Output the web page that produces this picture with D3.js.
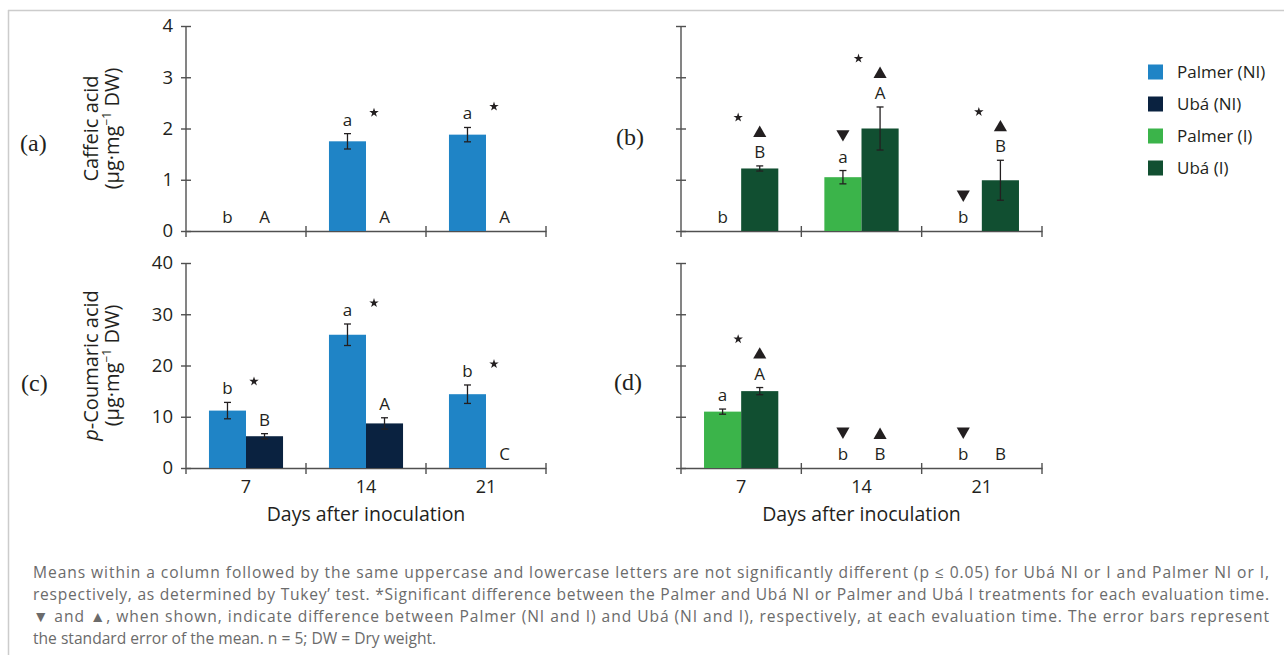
<!DOCTYPE html>
<html>
<head>
<meta charset="utf-8">
<script src="https://cdn.jsdelivr.net/npm/d3@7"></script>
<style>
  body { margin: 0; background: #fff; }
  svg { display: block; font-family: 'Open Sans', sans-serif; }
</style>
</head>
<body>
<svg id="chart" width="1284" height="655"></svg>
<script>
'use strict';
// categories + legend
const days = ['7', '14', '21'];
const legendLabels = ['Palmer (NI)', 'Ubá (NI)', 'Palmer (I)', 'Ubá (I)'];
const caffeicTicks = [0, 1, 2, 3, 4];
const coumaricTicks = [0, 10, 20, 30, 40];

// (a) caffeic acid, not inoculated
const caffeicPalmerNI = [0, 1.75, 1.88];
const caffeicPalmerNIErr = [0, 0.15, 0.14];
const caffeicPalmerNILetters = ['b', 'a', 'a'];
const caffeicUbaNI = [0, 0, 0];
const caffeicUbaNIErr = [0, 0, 0];
const caffeicUbaNILetters = ['A', 'A', 'A'];
const caffeicNIStars = [false, true, true];

// (b) caffeic acid, inoculated
const caffeicPalmerI = [0, 1.05, 0];
const caffeicPalmerIErr = [0, 0.13, 0];
const caffeicPalmerILetters = ['b', 'a', 'b'];
const caffeicPalmerIMarks = ['', 'down', 'down'];
const caffeicUbaI = [1.22, 2.0, 0.99];
const caffeicUbaIErr = [0.05, 0.42, 0.39];
const caffeicUbaILetters = ['B', 'A', 'B'];
const caffeicUbaIMarks = ['up', 'up', 'up'];
const caffeicIStars = [true, true, true];

// (c) p-coumaric acid, not inoculated
const coumaricPalmerNI = [11.2, 26.0, 14.4];
const coumaricPalmerNIErr = [1.6, 2.1, 1.8];
const coumaricPalmerNILetters = ['b', 'a', 'b'];
const coumaricUbaNI = [6.2, 8.7, 0];
const coumaricUbaNIErr = [0.5, 1.1, 0];
const coumaricUbaNILetters = ['B', 'A', 'C'];
const coumaricNIStars = [true, true, true];

// (d) p-coumaric acid, inoculated
const coumaricPalmerI = [11.0, 0, 0];
const coumaricPalmerIErr = [0.5, 0, 0];
const coumaricPalmerILetters = ['a', 'b', 'b'];
const coumaricPalmerIMarks = ['', 'down', 'down'];
const coumaricUbaI = [15.0, 0, 0];
const coumaricUbaIErr = [0.7, 0, 0];
const coumaricUbaILetters = ['A', 'B', 'B'];
const coumaricUbaIMarks = ['up', 'up', ''];
const coumaricIStars = [true, false, false];

const captionLines = [
  'Means within a column followed by the same uppercase and lowercase letters are not significantly different (p ≤ 0.05) for Ubá NI or I and Palmer NI or I,',
  'respectively, as determined by Tukey’ test. *Significant difference between the Palmer and Ubá NI or Palmer and Ubá I treatments for each evaluation time.',
  '▼ and ▲, when shown, indicate difference between Palmer (NI and I) and Ubá (NI and I), respectively, at each evaluation time. The error bars represent',
  'the standard error of the mean. n = 5; DW = Dry weight.',
];

const color = d3.scaleOrdinal()
  .domain(legendLabels)
  .range(['#1f84c6', '#0a2240', '#3bb44a', '#114f31']);
const ink = '#231f20';
const axisColor = '#505050';

const svg = d3.select('#chart');

// frame lines
svg.append('line')
  .attr('x1', 8).attr('x2', 1284).attr('y1', 10.5).attr('y2', 10.5)
  .attr('stroke', '#cccccc').attr('stroke-width', 1.5);
svg.append('line')
  .attr('x1', 8.5).attr('x2', 8.5).attr('y1', 10).attr('y2', 655)
  .attr('stroke', '#cccccc').attr('stroke-width', 1.5);

const triSize = 75;
const triH = Math.sqrt(triSize * 4 / Math.sqrt(3)) * Math.sqrt(3) / 2;

function panel(p) {
  const g = svg.append('g');
  const x = d3.scaleBand().domain(days).range([p.x0, p.x1]).padding(0);
  const xs = d3.scaleBand()
    .domain(p.series.map((s) => s.name))
    .range([0, x.bandwidth()])
    .paddingInner(0)
    .paddingOuter(0.62);
  const y = d3.scaleLinear().domain([0, d3.max(p.ticks)]).range([p.y0, p.yTop]);
  const rows = p.series.flatMap((s) => days.map((d, i) => ({
    day: d, i, name: s.name, v: s.values[i], e: s.errs[i],
    letter: s.letters[i], mark: s.marks ? s.marks[i] : '',
  })));
  const cx = (d) => x(d.day) + xs(d.name) + xs.bandwidth() / 2;

  // y axis
  const yAxis = g.append('g')
    .attr('transform', `translate(${p.x0},0)`)
    .call(d3.axisLeft(y).tickValues(p.ticks).tickSizeInner(5).tickSizeOuter(0)
      .tickPadding(8).tickFormat(p.tickLabels ? d3.format('d') : () => ''))
    .attr('font-family', null)
    .attr('font-size', 18.5);
  yAxis.select('.domain').remove();
  yAxis.selectAll('.tick line')
    .attr('x1', 5).attr('x2', -5)
    .attr('stroke', axisColor).attr('stroke-width', 1.4);
  yAxis.selectAll('.tick text').attr('fill', ink);
  g.append('line')
    .attr('x1', p.x0).attr('x2', p.x0)
    .attr('y1', y(d3.max(p.ticks))).attr('y2', y(0) + 6)
    .attr('stroke', axisColor).attr('stroke-width', 1.4);

  // x axis, ticks at the group boundaries
  const xAxis = g.append('g')
    .attr('transform', `translate(0,${y(0)})`)
    .call(d3.axisBottom(x).tickSize(0).tickPadding(12)
      .tickFormat(p.showX ? (d) => d : () => ''))
    .attr('font-family', null)
    .attr('font-size', 18);
  xAxis.select('.domain').attr('stroke', axisColor).attr('stroke-width', 1.4);
  xAxis.selectAll('.tick text').attr('fill', ink);
  g.selectAll('.btick')
    .data(days)
    .join('line')
    .attr('x1', (d) => x(d) + x.bandwidth())
    .attr('x2', (d) => x(d) + x.bandwidth())
    .attr('y1', y(0) - 5)
    .attr('y2', y(0) + 6)
    .attr('stroke', axisColor).attr('stroke-width', 1.4);

  // bars
  g.append('g')
    .selectAll('rect')
    .data(rows.filter((d) => d.v > 0))
    .join('rect')
    .attr('x', (d) => x(d.day) + xs(d.name))
    .attr('width', xs.bandwidth())
    .attr('y', (d) => y(d.v))
    .attr('height', (d) => y(0) - y(d.v))
    .attr('fill', (d) => color(d.name));

  // error bars
  const eb = g.append('g')
    .attr('stroke', ink).attr('stroke-width', 1.3)
    .selectAll('g')
    .data(rows.filter((d) => d.e > 0))
    .join('g');
  eb.append('line')
    .attr('x1', cx).attr('x2', cx)
    .attr('y1', (d) => y(d.v - d.e)).attr('y2', (d) => y(d.v + d.e));
  eb.append('line')
    .attr('x1', (d) => cx(d) - 3.5).attr('x2', (d) => cx(d) + 3.5)
    .attr('y1', (d) => y(d.v - d.e)).attr('y2', (d) => y(d.v - d.e));
  eb.append('line')
    .attr('x1', (d) => cx(d) - 3.5).attr('x2', (d) => cx(d) + 3.5)
    .attr('y1', (d) => y(d.v + d.e)).attr('y2', (d) => y(d.v + d.e));

  // Tukey letters
  g.append('g')
    .selectAll('text')
    .data(rows)
    .join('text')
    .attr('x', cx)
    .attr('y', (d) => y(d.v + d.e) - 8)
    .attr('text-anchor', 'middle')
    .attr('font-size', 17)
    .attr('fill', ink)
    .text((d) => d.letter);

  // up / down triangles
  g.append('g')
    .selectAll('path')
    .data(rows.filter((d) => d.mark))
    .join('path')
    .attr('d', d3.symbol(d3.symbolTriangle, triSize))
    .attr('fill', ink)
    .attr('transform', (d) => {
      const bottom = y(d.v + d.e) - 29;
      return d.mark === 'up'
        ? `translate(${cx(d)},${bottom - triH / 3})`
        : `translate(${cx(d)},${bottom - (2 * triH) / 3}) rotate(180)`;
    });

  // stars between the two treatments
  const topOf = (d) => y(d.v + d.e) - (d.mark ? 33 + triH : 17);
  g.append('g')
    .selectAll('path')
    .data(days.filter((d, i) => p.stars[i]))
    .join('path')
    .attr('d', d3.symbol(d3.symbolStar, 28))
    .attr('fill', ink)
    .attr('transform', (d) => {
      const top = d3.min(rows.filter((r) => r.day === d), topOf);
      return `translate(${x(d) + x.bandwidth() / 2 + p.starDx},${top - 4})`;
    });

  // y title
  if (p.title) {
    const ty = (y(0) + y(d3.max(p.ticks))) / 2;
    const t1 = g.append('text')
      .attr('transform', `translate(${p.x0 - 88},${ty}) rotate(-90)`)
      .attr('text-anchor', 'middle')
      .attr('font-size', 20)
      .attr('fill', ink);
    if (p.italicP) {
      t1.append('tspan').attr('font-style', 'italic').text('p');
      t1.append('tspan').text('-Coumaric acid');
    } else {
      t1.text(p.title);
    }
    const t2 = g.append('text')
      .attr('transform', `translate(${p.x0 - 67},${ty}) rotate(-90)`)
      .attr('text-anchor', 'middle')
      .attr('font-size', 20)
      .attr('fill', ink);
    t2.append('tspan').text('(µg·mg');
    t2.append('tspan').attr('font-size', 12).attr('dy', -8).text('−1');
    t2.append('tspan').attr('dy', 8).text(' DW)');
  }

  if (p.showX) {
    g.append('text')
      .attr('x', (p.x0 + p.x1) / 2)
      .attr('y', 521)
      .attr('text-anchor', 'middle')
      .attr('font-size', 19.5)
      .attr('fill', ink)
      .text('Days after inoculation');
  }

  // panel letter
  g.append('text')
    .attr('x', p.labelX)
    .attr('y', p.labelY)
    .attr('font-family', "'Liberation Serif', serif")
    .attr('font-size', 24)
    .attr('fill', ink)
    .text(p.label);
}

panel({
  label: '(a)', labelX: 20, labelY: 151,
  x0: 186, x1: 546, y0: 231, yTop: 26, ticks: caffeicTicks, tickLabels: true,
  title: 'Caffeic acid', showX: false, stars: caffeicNIStars, starDx: 8,
  series: [
    { name: 'Palmer (NI)', values: caffeicPalmerNI, errs: caffeicPalmerNIErr, letters: caffeicPalmerNILetters },
    { name: 'Ubá (NI)', values: caffeicUbaNI, errs: caffeicUbaNIErr, letters: caffeicUbaNILetters },
  ],
});
panel({
  label: '(b)', labelX: 616, labelY: 145,
  x0: 681, x1: 1042, y0: 231, yTop: 26, ticks: caffeicTicks, tickLabels: false,
  title: null, showX: false, stars: caffeicIStars, starDx: -3,
  series: [
    { name: 'Palmer (I)', values: caffeicPalmerI, errs: caffeicPalmerIErr, letters: caffeicPalmerILetters, marks: caffeicPalmerIMarks },
    { name: 'Ubá (I)', values: caffeicUbaI, errs: caffeicUbaIErr, letters: caffeicUbaILetters, marks: caffeicUbaIMarks },
  ],
});
panel({
  label: '(c)', labelX: 21, labelY: 391,
  x0: 186, x1: 546, y0: 468, yTop: 263, ticks: coumaricTicks, tickLabels: true,
  title: 'p-Coumaric acid', italicP: true, showX: true, stars: coumaricNIStars, starDx: 8,
  series: [
    { name: 'Palmer (NI)', values: coumaricPalmerNI, errs: coumaricPalmerNIErr, letters: coumaricPalmerNILetters },
    { name: 'Ubá (NI)', values: coumaricUbaNI, errs: coumaricUbaNIErr, letters: coumaricUbaNILetters },
  ],
});
panel({
  label: '(d)', labelX: 614, labelY: 390,
  x0: 681, x1: 1042, y0: 468, yTop: 263, ticks: coumaricTicks, tickLabels: false,
  title: null, showX: true, stars: coumaricIStars, starDx: -3,
  series: [
    { name: 'Palmer (I)', values: coumaricPalmerI, errs: coumaricPalmerIErr, letters: coumaricPalmerILetters, marks: coumaricPalmerIMarks },
    { name: 'Ubá (I)', values: coumaricUbaI, errs: coumaricUbaIErr, letters: coumaricUbaILetters, marks: coumaricUbaIMarks },
  ],
});

// legend
const legend = svg.append('g').attr('transform', 'translate(1148,72)');
const li = legend.selectAll('g')
  .data(legendLabels)
  .join('g')
  .attr('transform', (d, i) => `translate(0,${i * 32})`);
li.append('rect')
  .attr('x', 0).attr('y', -7.5)
  .attr('width', 15).attr('height', 15)
  .attr('fill', (d) => color(d));
li.append('text')
  .attr('x', 29).attr('y', 6)
  .attr('font-size', 17)
  .attr('fill', ink)
  .text((d) => d);

// caption under the figure
svg.append('g')
  .selectAll('text')
  .data(captionLines)
  .join('text')
  .attr('x', 33)
  .attr('y', (d, i) => 578 + i * 22)
  .attr('font-size', 15.6)
  .attr('fill', '#6b6b6b')
  .attr('textLength', (d, i) => (i < 3 ? 1236 : null))
  .attr('lengthAdjust', 'spacing')
  .text((d) => d);
</script>
</body>
</html>
